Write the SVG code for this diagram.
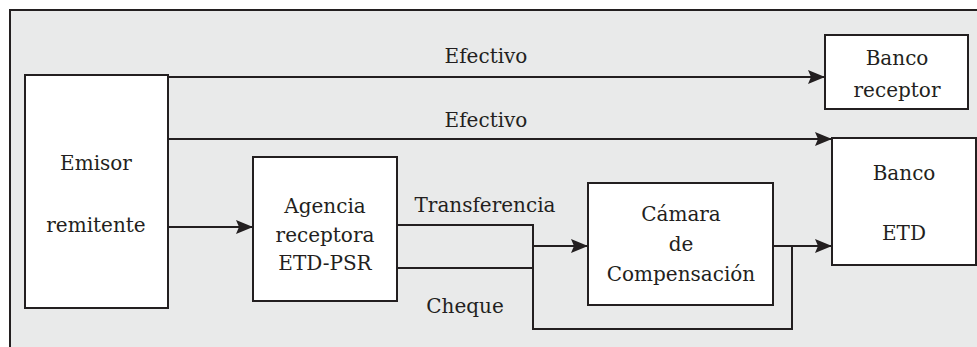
<svg xmlns="http://www.w3.org/2000/svg" width="977" height="347" viewBox="0 0 977 347">
<style>
.box{fill:#ffffff;stroke:#231f20;stroke-width:2}
.ln{fill:none;stroke:#231f20;stroke-width:2}
</style>
<defs>
<marker id="ah" markerUnits="userSpaceOnUse" markerWidth="18" markerHeight="16" refX="17" refY="7" orient="auto">
<path d="M0,0 L17,7 L0,14 L3,7 Z" fill="#231f20"/>
</marker>
</defs>
<rect x="0" y="0" width="977" height="347" fill="#ffffff"/>
<rect x="10" y="10" width="970" height="340" fill="#e9eaea"/>
<path d="M10,350 V10 H980" fill="none" stroke="#231f20" stroke-width="2"/>
<g font-family="DejaVu Serif, serif" font-size="20" fill="#231f20" text-anchor="middle">
<g id="connectors">
<path class="ln" d="M168,77 H825" marker-end="url(#ah)"/>
<path class="ln" d="M168,139 H832" marker-end="url(#ah)"/>
<path class="ln" d="M168,227 H253" marker-end="url(#ah)"/>
<path class="ln" d="M397,225 H533 V329 H792 V246"/>
<path class="ln" d="M397,268 H533"/>
<path class="ln" d="M533,246 H588" marker-end="url(#ah)"/>
<path class="ln" d="M773,246 H832" marker-end="url(#ah)"/>
<text x="486" y="63">Efectivo</text>
<text x="486" y="127">Efectivo</text>
<text x="485" y="212">Transferencia</text>
<text x="465" y="313">Cheque</text>
</g>
<g id="emisor">
<rect class="box" x="25" y="75" width="143" height="233"/>
<text x="96" y="170">Emisor</text>
<text x="96" y="232">remitente</text>
</g>
<g id="agencia">
<rect class="box" x="253" y="157" width="144" height="144"/>
<text x="325" y="213">Agencia</text>
<text x="325" y="242">receptora</text>
<text x="325" y="270">ETD-PSR</text>
</g>
<g id="camara">
<rect class="box" x="588" y="183" width="185" height="122"/>
<text x="681" y="221">Cámara</text>
<text x="681" y="251">de</text>
<text x="681" y="281">Compensación</text>
</g>
<g id="banco-receptor">
<rect class="box" x="825" y="35" width="143" height="74"/>
<text x="897" y="65">Banco</text>
<text x="897" y="97">receptor</text>
</g>
<g id="banco-etd">
<rect class="box" x="832" y="138" width="144" height="127"/>
<text x="904" y="180">Banco</text>
<text x="904" y="240">ETD</text>
</g>
</g>
</svg>
